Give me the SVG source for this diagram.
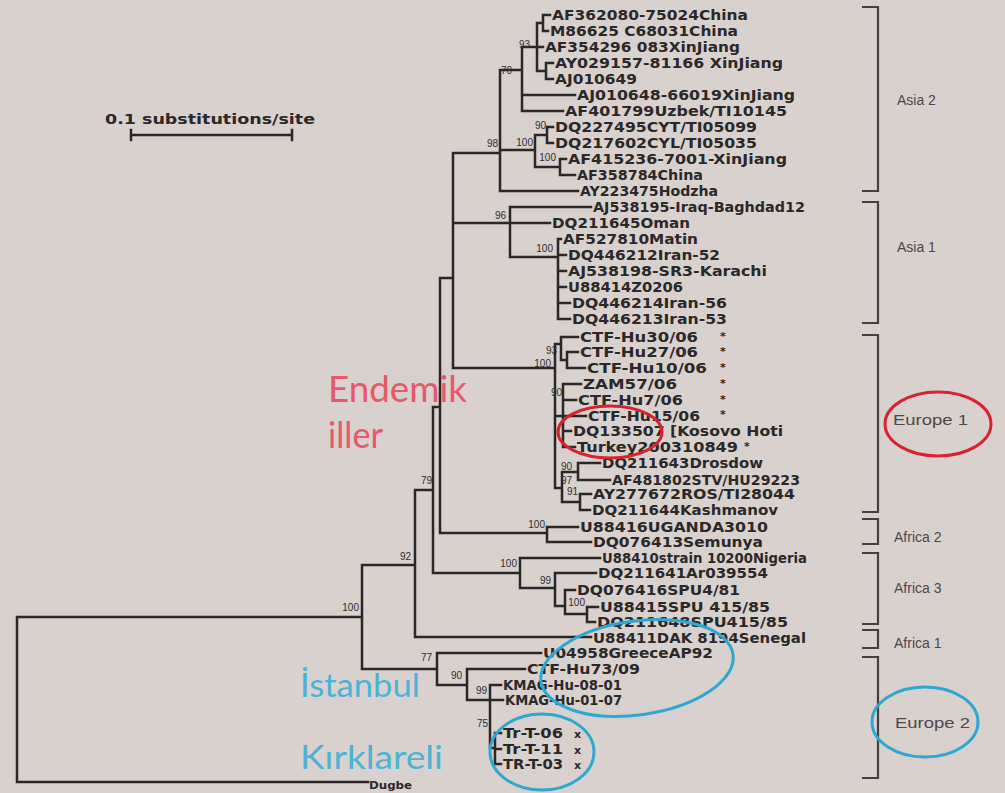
<svg xmlns="http://www.w3.org/2000/svg" width="1005" height="793" viewBox="0 0 1005 793">
<style>
.bg{fill:#d9d1ce}
.br{fill:none;stroke:#2a2727;stroke-width:2.5;stroke-linecap:square}
.bk{fill:none;stroke:#444040;stroke-width:2.2}
.lf{font-family:"DejaVu Sans",sans-serif;font-weight:bold;font-size:14px;fill:#2b2828}
.st{font-family:"DejaVu Sans",sans-serif;font-weight:bold;font-size:11px;fill:#2b2828}
.bs{font-family:"Liberation Sans",sans-serif;font-size:10px;fill:#2f2c2c;text-anchor:end}
.cl{font-family:"Liberation Sans",sans-serif;font-size:14px;fill:#4c4848}
.red{font-family:Lato,"Open Sans",sans-serif;font-size:37px;fill:#e85868}
.blu{font-family:Lato,"Open Sans",sans-serif;font-size:32px;fill:#4cb2d6}
.er{fill:none;stroke:#d8232e;stroke-width:3}
.eb{fill:none;stroke:#2ea8d2;stroke-width:3}
</style>
<rect class="bg" x="0" y="0" width="1005" height="793"/>

<g id="scale">
<text class="lf" x="105" y="124" textLength="210" lengthAdjust="spacingAndGlyphs" fill="#3a3636">0.1 substitutions/site</text>
<path class="br" d="M131,135 H292 M131,130 V140 M292,130 V140"/>
</g>

<g id="connectors">
<path class="br" d="M17,617 V782 M17,617 H362 M17,782 H368
M362,565 V669 M362,565 H415 M362,669 H437
M415,490 V637 M415,490 H433 M415,637 H591
M433,407 V573 M433,407 H440 M433,573 H520
M440,278 V533 M440,278 H453 M440,533 H547
M453,153 V368 M453,153 H500 M453,223 H510 M453,368 H555
M500,70 V191 M500,70 H522 M500,150 H535 M500,191 H578
M522,47 V111 M522,47 H537 M522,95 H575 M522,111 H563
M537,23 V71 M537,23 H543 M537,47 H543 M537,71 H546
M543,15 V31 M543,15 H550 M543,31 H548
M546,63 V79 M546,63 H553 M546,79 H553
M535,135 V167 M535,135 H547 M535,167 H560
M547,127 V143 M547,127 H553 M547,143 H553
M560,159 V175 M560,159 H566 M560,175 H575
M510,207 V257 M510,207 H591 M510,223 H550 M510,257 H558
M558,239 V319 M558,239 H561 M558,255 H566 M558,271 H566 M558,287 H566 M558,303 H570 M558,319 H570
M555,344 V488 M555,344 H561 M555,416 H563 M555,488 H562
M561,337 V360 M561,337 H578 M561,360 H567
M567,352 V368 M567,352 H578 M567,368 H585
M563,384 V447 M563,384 H581 M563,400 H576 M563,416 H586 M563,431 H571 M563,447 H575
M562,472 V502 M562,472 H578 M562,502 H580
M578,463 V480 M578,463 H600 M578,480 H610
M580,494 V510 M580,494 H591 M580,510 H590
M547,527 V542 M547,527 H578 M547,542 H591
M520,558 V588 M520,558 H600 M520,588 H555
M555,573 V606 M555,573 H596 M555,606 H565
M565,590 V614 M565,590 H575 M565,614 H587
M587,607 V622 M587,607 H598 M587,622 H595
M437,653 V685 M437,653 H541 M437,685 H467
M467,669 V700 M467,669 H525 M467,700 H490
M490,685 V748 M490,685 H501 M490,700 H503 M490,748 H495
M495,733 V764 M495,733 H501 M495,749 H501 M495,764 H501"/>
</g>

<g id="bootstrap">
<text class="bs" x="359" y="611">100</text>
<text class="bs" x="411" y="560">92</text>
<text class="bs" x="432" y="484">79</text>
<text class="bs" x="498" y="147">98</text>
<text class="bs" x="506" y="219">96</text>
<text class="bs" x="512" y="74">70</text>
<text class="bs" x="530" y="48">93</text>
<text class="bs" x="546" y="129">90</text>
<text class="bs" x="533" y="146">100</text>
<text class="bs" x="556" y="161">100</text>
<text class="bs" x="553" y="252">100</text>
<text class="bs" x="557" y="354">93</text>
<text class="bs" x="551" y="367">100</text>
<text class="bs" x="562" y="396">90</text>
<text class="bs" x="572" y="470">90</text>
<text class="bs" x="572" y="484">97</text>
<text class="bs" x="578" y="495">91</text>
<text class="bs" x="545" y="528">100</text>
<text class="bs" x="517" y="567">100</text>
<text class="bs" x="551" y="584">99</text>
<text class="bs" x="585" y="606">100</text>
<text class="bs" x="432" y="661">77</text>
<text class="bs" x="462" y="679">90</text>
<text class="bs" x="487" y="694">99</text>
<text class="bs" x="488" y="727">75</text>
</g>

<g id="leaves">
<g id="n1"><text class="lf" x="552" y="20" textLength="196" lengthAdjust="spacingAndGlyphs">AF362080-75024China</text></g>
<g id="n2"><text class="lf" x="550" y="36" textLength="188" lengthAdjust="spacingAndGlyphs">M86625 C68031China</text></g>
<g id="n3"><text class="lf" x="545" y="52" textLength="195" lengthAdjust="spacingAndGlyphs">AF354296 083XinJiang</text></g>
<g id="n4"><text class="lf" x="555" y="68" textLength="228" lengthAdjust="spacingAndGlyphs">AY029157-81166 XinJiang</text></g>
<g id="n5"><text class="lf" x="555" y="84" textLength="82" lengthAdjust="spacingAndGlyphs">AJ010649</text></g>
<g id="n6"><text class="lf" x="577" y="100" textLength="218" lengthAdjust="spacingAndGlyphs">AJ010648-66019XinJiang</text></g>
<g id="n7"><text class="lf" x="565" y="116" textLength="222" lengthAdjust="spacingAndGlyphs">AF401799Uzbek/TI10145</text></g>
<g id="n8"><text class="lf" x="555" y="132" textLength="202" lengthAdjust="spacingAndGlyphs">DQ227495CYT/TI05099</text></g>
<g id="n9"><text class="lf" x="555" y="148" textLength="202" lengthAdjust="spacingAndGlyphs">DQ217602CYL/TI05035</text></g>
<g id="n10"><text class="lf" x="568" y="164" textLength="219" lengthAdjust="spacingAndGlyphs">AF415236-7001-XinJiang</text></g>
<g id="n11"><text class="lf" x="577" y="180" textLength="126" lengthAdjust="spacingAndGlyphs">AF358784China</text></g>
<g id="n12"><text class="lf" x="580" y="196" textLength="138" lengthAdjust="spacingAndGlyphs">AY223475Hodzha</text></g>
<g id="n13"><text class="lf" x="593" y="212" textLength="212" lengthAdjust="spacingAndGlyphs">AJ538195-Iraq-Baghdad12</text></g>
<g id="n14"><text class="lf" x="552" y="228" textLength="138" lengthAdjust="spacingAndGlyphs">DQ211645Oman</text></g>
<g id="n15"><text class="lf" x="563" y="244" textLength="135" lengthAdjust="spacingAndGlyphs">AF527810Matin</text></g>
<g id="n16"><text class="lf" x="568" y="260" textLength="152" lengthAdjust="spacingAndGlyphs">DQ446212Iran-52</text></g>
<g id="n17"><text class="lf" x="568" y="276" textLength="199" lengthAdjust="spacingAndGlyphs">AJ538198-SR3-Karachi</text></g>
<g id="n18"><text class="lf" x="568" y="292" textLength="115" lengthAdjust="spacingAndGlyphs">U88414Z0206</text></g>
<g id="n19"><text class="lf" x="572" y="308" textLength="155" lengthAdjust="spacingAndGlyphs">DQ446214Iran-56</text></g>
<g id="n20"><text class="lf" x="572" y="324" textLength="155" lengthAdjust="spacingAndGlyphs">DQ446213Iran-53</text></g>
<g id="n21"><text class="lf" x="580" y="342" textLength="118" lengthAdjust="spacingAndGlyphs">CTF-Hu30/06</text><text class="st" x="720" y="340">*</text></g>
<g id="n22"><text class="lf" x="580" y="357" textLength="118" lengthAdjust="spacingAndGlyphs">CTF-Hu27/06</text><text class="st" x="720" y="355">*</text></g>
<g id="n23"><text class="lf" x="587" y="373" textLength="120" lengthAdjust="spacingAndGlyphs">CTF-Hu10/06</text><text class="st" x="720" y="371">*</text></g>
<g id="n24"><text class="lf" x="583" y="389" textLength="94" lengthAdjust="spacingAndGlyphs">ZAM57/06</text><text class="st" x="720" y="387">*</text></g>
<g id="n25"><text class="lf" x="578" y="405" textLength="105" lengthAdjust="spacingAndGlyphs">CTF-Hu7/06</text><text class="st" x="720" y="403">*</text></g>
<g id="n26"><text class="lf" x="588" y="421" textLength="112" lengthAdjust="spacingAndGlyphs">CTF-Hu15/06</text><text class="st" x="720" y="418">*</text></g>
<g id="n27"><text class="lf" x="573" y="436" textLength="210" lengthAdjust="spacingAndGlyphs">DQ133507 [Kosovo Hoti</text></g>
<g id="n28"><text class="lf" x="577" y="452" textLength="161" lengthAdjust="spacingAndGlyphs">Turkey200310849</text><text class="st" x="744" y="450">*</text></g>
<g id="n29"><text class="lf" x="602" y="468" textLength="161" lengthAdjust="spacingAndGlyphs">DQ211643Drosdow</text></g>
<g id="n30"><text class="lf" x="612" y="485" textLength="188" lengthAdjust="spacingAndGlyphs">AF481802STV/HU29223</text></g>
<g id="n31"><text class="lf" x="593" y="499" textLength="202" lengthAdjust="spacingAndGlyphs">AY277672ROS/TI28044</text></g>
<g id="n32"><text class="lf" x="592" y="515" textLength="186" lengthAdjust="spacingAndGlyphs">DQ211644Kashmanov</text></g>
<g id="n33"><text class="lf" x="580" y="532" textLength="188" lengthAdjust="spacingAndGlyphs">U88416UGANDA3010</text></g>
<g id="n34"><text class="lf" x="593" y="547" textLength="170" lengthAdjust="spacingAndGlyphs">DQ076413Semunya</text></g>
<g id="n35"><text class="lf" x="602" y="563" textLength="205" lengthAdjust="spacingAndGlyphs">U88410strain 10200Nigeria</text></g>
<g id="n36"><text class="lf" x="598" y="578" textLength="170" lengthAdjust="spacingAndGlyphs">DQ211641Ar039554</text></g>
<g id="n37"><text class="lf" x="577" y="595" textLength="163" lengthAdjust="spacingAndGlyphs">DQ076416SPU4/81</text></g>
<g id="n38"><text class="lf" x="600" y="612" textLength="170" lengthAdjust="spacingAndGlyphs">U88415SPU 415/85</text></g>
<g id="n39"><text class="lf" x="597" y="627" textLength="191" lengthAdjust="spacingAndGlyphs">DQ211648SPU415/85</text></g>
<g id="n40"><text class="lf" x="593" y="643" textLength="213" lengthAdjust="spacingAndGlyphs">U88411DAK 8194Senegal</text></g>
<g id="n41"><text class="lf" x="543" y="658" textLength="170" lengthAdjust="spacingAndGlyphs">U04958GreeceAP92</text></g>
<g id="n42"><text class="lf" x="527" y="674" textLength="113" lengthAdjust="spacingAndGlyphs">CTF-Hu73/09</text></g>
<g id="n43"><text class="lf" x="503" y="690" textLength="119" lengthAdjust="spacingAndGlyphs">KMAG-Hu-08-01</text></g>
<g id="n44"><text class="lf" x="505" y="705" textLength="117" lengthAdjust="spacingAndGlyphs">KMAG-Hu-01-07</text></g>
<g id="n45"><text class="lf" x="503" y="738" textLength="60" lengthAdjust="spacingAndGlyphs">Tr-T-06</text><text class="st" x="574" y="738">x</text></g>
<g id="n46"><text class="lf" x="503" y="754" textLength="60" lengthAdjust="spacingAndGlyphs">Tr-T-11</text><text class="st" x="574" y="754">x</text></g>
<g id="n47"><text class="lf" x="503" y="769" textLength="60" lengthAdjust="spacingAndGlyphs">TR-T-03</text><text class="st" x="574" y="769">x</text></g>
<g id="n48"><text class="st" x="369" y="789" textLength="43" lengthAdjust="spacingAndGlyphs">Dugbe</text></g>
</g>

<g id="clades">
<g id="asia2"><path class="bk" d="M862,7 H878 V191 H862"/><text class="cl" x="897" y="105">Asia 2</text></g>
<g id="asia1"><path class="bk" d="M862,202 H878 V323 H862"/><text class="cl" x="897" y="252">Asia 1</text></g>
<g id="europe1"><path class="bk" d="M862,335 H878 V512 H862"/><text class="cl" x="893" y="425" textLength="75" lengthAdjust="spacingAndGlyphs">Europe 1</text></g>
<g id="africa2"><path class="bk" d="M862,519 H878 V544 H862"/><text class="cl" x="894" y="542">Africa 2</text></g>
<g id="africa3"><path class="bk" d="M862,553 H878 V624 H862"/><text class="cl" x="894" y="593">Africa 3</text></g>
<g id="africa1"><path class="bk" d="M862,630 H878 V648 H862"/><text class="cl" x="894" y="648">Africa 1</text></g>
<g id="europe2"><path class="bk" d="M862,657 H878 V778 H862"/><text class="cl" x="895" y="728" textLength="75" lengthAdjust="spacingAndGlyphs">Europe 2</text></g>
</g>

<g id="annotations">
<ellipse class="er" cx="610" cy="432" rx="52" ry="26"/>
<ellipse class="er" cx="938" cy="424" rx="53" ry="32"/>
<ellipse class="eb" cx="637" cy="668" rx="97" ry="47" transform="rotate(-8 637 668)"/>
<ellipse class="eb" cx="542" cy="752" rx="52" ry="38"/>
<ellipse class="eb" cx="925" cy="722" rx="53" ry="35"/>
<text class="red" x="328" y="402" textLength="139" lengthAdjust="spacingAndGlyphs">Endemik</text>
<text class="red" x="328" y="448" textLength="55" lengthAdjust="spacingAndGlyphs">iller</text>
<text class="blu" x="300" y="697" textLength="120" lengthAdjust="spacingAndGlyphs">İstanbul</text>
<text class="blu" x="300" y="769" textLength="143" lengthAdjust="spacingAndGlyphs">Kırklareli</text>
</g>
</svg>
